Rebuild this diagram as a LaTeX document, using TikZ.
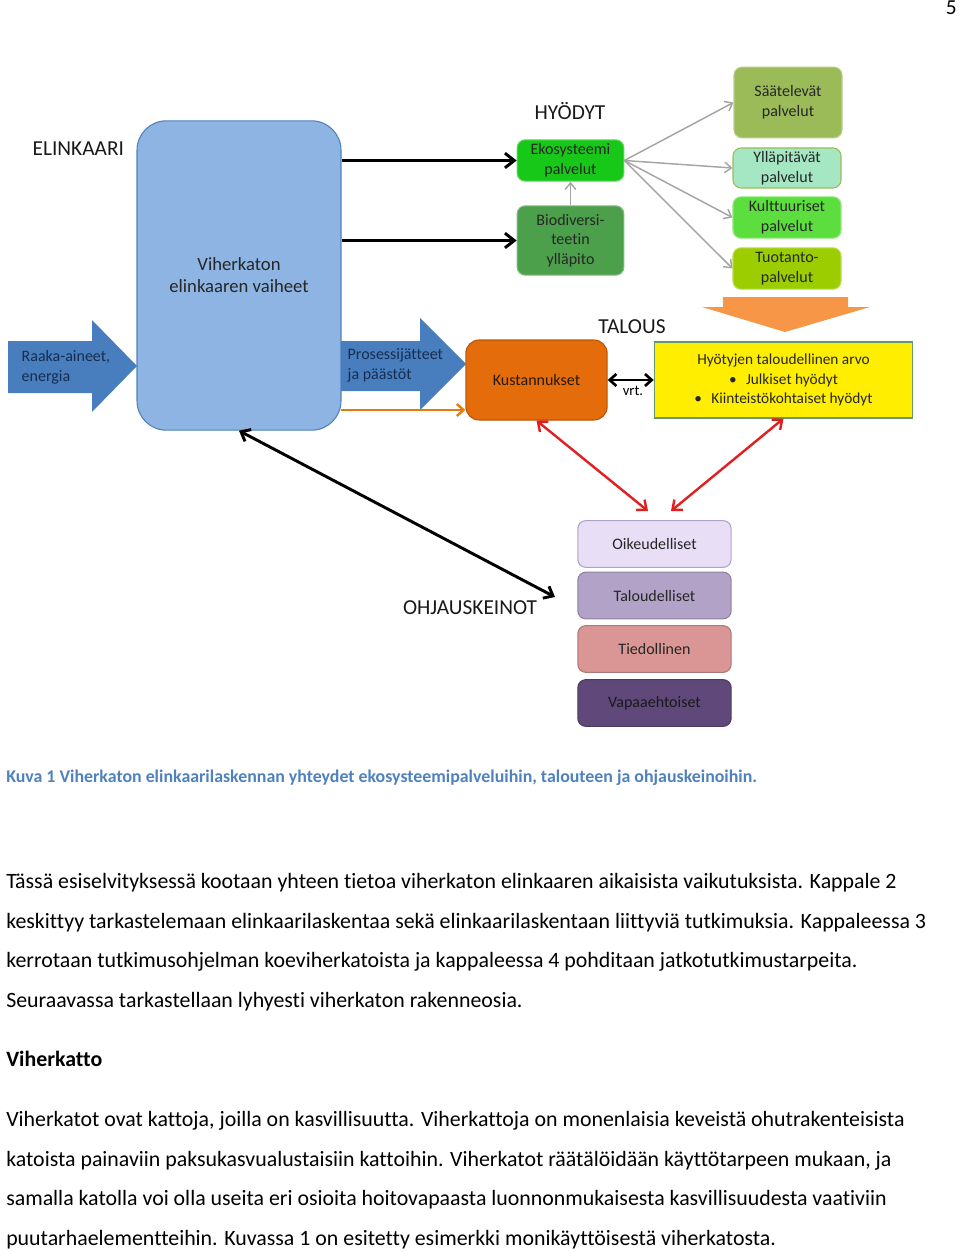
\documentclass[tikz,border=0pt]{standalone}
\usepackage{fontspec}
\setmainfont{Carlito}[Ligatures=NoCommon]
\usetikzlibrary{positioning,arrows.meta}

\definecolor{lifeblue}{RGB}{141,180,226}
\definecolor{lifeline}{RGB}{79,129,189}
\definecolor{flowblue}{RGB}{72,126,190}
\definecolor{navytext}{RGB}{23,45,80}
\definecolor{ekosgreen}{RGB}{24,200,24}
\definecolor{biodgreen}{RGB}{76,160,76}
\definecolor{saatgreen}{RGB}{155,187,89}
\definecolor{yllapmint}{RGB}{165,230,195}
\definecolor{kultgreen}{RGB}{92,222,62}
\definecolor{tuotgreen}{RGB}{155,205,0}
\definecolor{chevorange}{RGB}{247,150,70}
\definecolor{kustorange}{RGB}{228,108,10}
\definecolor{valueyellow}{RGB}{255,238,0}
\definecolor{oikviolet}{RGB}{232,222,246}
\definecolor{talviolet}{RGB}{178,162,199}
\definecolor{tiedrose}{RGB}{217,150,148}
\definecolor{vapapurple}{RGB}{96,73,122}
\definecolor{capblue}{RGB}{79,129,189}
\definecolor{linkgray}{RGB}{165,165,165}
\definecolor{linkred}{RGB}{228,30,30}

\tikzset{
  box/.style={draw, line width=0.8pt, rounded corners=6pt, align=center, inner sep=2pt,
    text=black!85, font=\fontsize{12}{15}\selectfont},
  service/.style={box, minimum width=81pt},
  instrument/.style={box, minimum width=115pt, minimum height=35pt},
  heading/.style={font=\fontsize{16}{19}\selectfont, text=black!90},
  bodyline/.style={anchor=base west, inner sep=0pt, font=\fontsize{16.4}{19}\selectfont},
  thickarrow/.style={line width=2.2pt, -{Straight Barb[length=7pt,width=11pt]}},
  graylink/.style={linkgray, line width=1.1pt, -{Straight Barb[length=5pt,width=8pt]}},
  redlink/.style={linkred, line width=1.8pt, {Straight Barb[length=6pt,width=10pt]}-{Straight Barb[length=6pt,width=10pt]}}
}

\begin{document}
\begin{tikzpicture}[x=0.75pt,y=-0.75pt]
\useasboundingbox (0,0) rectangle (960,1252);

% page number
\node[anchor=north east, inner sep=0pt, font=\fontsize{16}{19}\selectfont] (pagenum) at (957,1) {5};

% life cycle
\node[heading, anchor=west] (elinkaari) at (28,149) {ELINKAARI};
\node[box, fill=lifeblue, draw=lifeline, rounded corners=22pt, minimum width=153pt, minimum height=232pt,
  font=\fontsize{14}{16.5}\selectfont] (life) at (239,275.5) {Viherkaton\\elinkaaren vaiheet};

% block arrows
\fill[flowblue] (8,341) -- (92,341) -- (92,320) -- (137,366) -- (92,412) -- (92,393) -- (8,393) -- cycle;
\node[anchor=west, align=left, text=navytext, font=\fontsize{12}{15}\selectfont] (raaka) at (17,367) {Raaka-aineet,\\energia};
\fill[flowblue] (341,341) -- (420,341) -- (420,318) -- (466,364) -- (420,410) -- (420,391) -- (341,391) -- cycle;
\node[anchor=west, align=left, text=navytext, font=\fontsize{12}{15}\selectfont] (prosessi) at (343,365) {Prosessijätteet\\ja päästöt};

% benefits
\node[heading] (hyodyt) at (570,111) {HYÖDYT};
\node[box, fill=ekosgreen, draw=ekosgreen!70!white, minimum width=80pt, minimum height=31pt] (ekos) at (570.5,160.5) {Ekosysteemi\\palvelut};
\node[box, fill=biodgreen, draw=biodgreen!70!white, minimum width=80pt, minimum height=52pt,
  font=\fontsize{12}{14.6}\selectfont] (biod) at (570.5,240.5) {Biodiversi-\\teetin\\ylläpito};

\node[service, fill=saatgreen, draw=saatgreen!70!white, minimum height=53pt] (saat) at (788,102.5) {Säätelevät\\palvelut};
\node[service, fill=yllapmint, draw=saatgreen, minimum height=30pt] (yllap) at (787,168) {Ylläpitävät\\palvelut};
\node[service, fill=kultgreen, draw=kultgreen!70!white, minimum height=31pt] (kult) at (787,217.5) {Kulttuuriset\\palvelut};
\node[service, fill=tuotgreen, draw=tuotgreen!70!white, minimum height=31pt] (tuot) at (787,268.5) {Tuotanto-\\palvelut};

\draw[thickarrow] (life.east |- ekos.west) -- (ekos.west);
\draw[thickarrow] (life.east |- biod.west) -- (biod.west);
\draw[graylink] (biod.north) -- (ekos.south);
\foreach \target in {saat,yllap,kult,tuot}
  \draw[graylink] (ekos.east) -- (\target.west);

% economy
\fill[chevorange] (723,297) -- (848,297) -- (848,307) -- (870,307) -- (785,332) -- (702,307) -- (723,307) -- cycle;
\node[heading] (talous) at (632,327) {TALOUS};
\node[box, fill=kustorange, draw=kustorange!80!black, rounded corners=10pt, minimum width=106pt, minimum height=60pt,
  text=black!80!brown] (kust) at (536.5,380) {Kustannukset};
\node[box, rounded corners=0pt, fill=valueyellow, draw=gray!80!green, minimum width=194pt, minimum height=57pt,
  font=\fontsize{11.5}{14.6}\selectfont] (arvo) at (783.5,380)
  {Hyötyjen taloudellinen arvo\\\textbullet\hspace{7pt}Julkiset hyödyt\\\textbullet\hspace{7pt}Kiinteistökohtaiset hyödyt};
\draw[line width=2pt, {Straight Barb[length=5pt,width=9pt]}-{Straight Barb[length=5pt,width=9pt]}] (kust.east) -- (arvo.west);
\node[font=\fontsize{11}{13}\selectfont] (vrt) at (633,391) {vrt.};
\draw[kustorange!90!yellow, line width=1.8pt, -{Straight Barb[length=5pt,width=9pt]}] (341,410) -- (kust.west |- 0,410);

% steering instruments
\node[heading] (ohjaus) at (470,608) {OHJAUSKEINOT};
\node[instrument, fill=oikviolet, draw=talviolet] (oik) at (654.5,544) {Oikeudelliset};
\node[instrument, fill=talviolet, draw=talviolet!80!black] (tal) at (654.5,595.5) {Taloudelliset};
\node[instrument, fill=tiedrose, draw=tiedrose!80!black] (tied) at (654.5,649) {Tiedollinen};
\node[instrument, fill=vapapurple, draw=vapapurple!80!black, text=black!90] (vapa) at (654.5,703) {Vapaaehtoiset};

\coordinate (ohjtip) at (555,597);
\coordinate (kustend) at (648,511);
\coordinate (arvoend) at (671,511);
\draw[line width=2.2pt, {Straight Barb[length=6pt,width=10pt]}-{Straight Barb[length=6pt,width=10pt]}] (life.south) -- (ohjtip);
\draw[redlink] (kust.south) -- (kustend);
\draw[redlink] (arvo.south) -- (arvoend);

% caption and body text
\node[anchor=base west, inner sep=0pt, text=capblue, font=\bfseries\fontsize{13.4}{15}\selectfont] (caption) at (6,782)
  {Kuva 1 Viherkaton elinkaarilaskennan yhteydet ekosysteemipalveluihin, talouteen ja ohjauskeinoihin.};
\node[bodyline] (p1) at (6,888) {Tässä esiselvityksessä kootaan yhteen tietoa viherkaton elinkaaren aikaisista vaikutuksista. Kappale 2};
\node[bodyline] (p2) at (6,928) {keskittyy tarkastelemaan elinkaarilaskentaa sekä elinkaarilaskentaan liittyviä tutkimuksia. Kappaleessa 3};
\node[bodyline] (p3) at (6,967) {kerrotaan tutkimusohjelman koeviherkatoista ja kappaleessa 4 pohditaan jatkotutkimustarpeita.};
\node[bodyline] (p4) at (6,1007) {Seuraavassa tarkastellaan lyhyesti viherkaton rakenneosia.};
\node[bodyline, font=\bfseries\fontsize{16.4}{19}\selectfont] (subhead) at (6,1066) {Viherkatto};
\node[bodyline] (p5) at (6,1126) {Viherkatot ovat kattoja, joilla on kasvillisuutta. Viherkattoja on monenlaisia keveistä ohutrakenteisista};
\node[bodyline] (p6) at (6,1166) {katoista painaviin paksukasvualustaisiin kattoihin. Viherkatot räätälöidään käyttötarpeen mukaan, ja};
\node[bodyline] (p7) at (6,1205) {samalla katolla voi olla useita eri osioita hoitovapaasta luonnonmukaisesta kasvillisuudesta vaativiin};
\node[bodyline] (p8) at (6,1245) {puutarhaelementteihin. Kuvassa 1 on esitetty esimerkki monikäyttöisestä viherkatosta.};
\end{tikzpicture}
\end{document}
